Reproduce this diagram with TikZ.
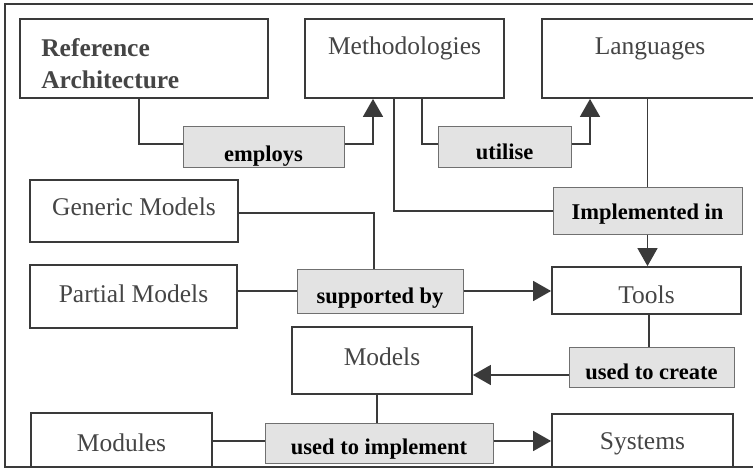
\documentclass[tikz,border=0pt]{standalone}
\usepackage{fontspec}
\setmainfont{Liberation Serif}
\usetikzlibrary{positioning,arrows.meta,calc}
\definecolor{ink}{HTML}{3A3A3A}
\definecolor{boxtext}{HTML}{454545}
\definecolor{tagfill}{HTML}{E3E3E3}
\definecolor{tagline}{HTML}{707070}
\tikzset{
  box/.style    = {draw=ink, fill=white, line width=1.8pt, inner sep=0pt,
                   text=boxtext, font=\fontsize{25.5}{32}\selectfont},
  boxtxt/.style = {inner sep=0pt, text=boxtext, align=left,
                   font=\fontsize{25.5}{32}\selectfont\bfseries},
  tag/.style    = {draw=tagline, fill=tagfill, line width=1pt, inner sep=0pt,
                   text=black, font=\fontsize{22.5}{26}\selectfont\bfseries},
  link/.style   = {draw=ink, line width=1.5pt},
  arr/.style    = {link, -{Triangle[length=18pt,width=20pt]}},
  frame/.style  = {draw=ink, line width=1.4pt},
}
\begin{document}
\begin{tikzpicture}[x=1pt,y=-1pt]
    \useasboundingbox (0,0) rectangle (753,468);
    \clip (0,0) rectangle (753,468);
    \node[box,minimum width=248pt,minimum height=79pt] (ref) at (144,58.5) {};
    \node[boxtxt,anchor=north west] (reftxt) at ($(ref.north west)+(22,20)$)
      {Reference\\Architecture};
    \node[box,minimum width=199pt,text height=36pt,text depth=43pt] (meth) at (404.5,58.5) {Methodologies};
    \node[box,minimum width=216pt,text height=36pt,text depth=43pt] (lang) at (650,58.5) {Languages};
    \node[box,minimum width=208pt,text height=35pt,text depth=27pt] (gen) at (134,211) {Generic Models};
    \node[box,minimum width=207pt,text height=37pt,text depth=26pt] (part) at (133.5,296.5) {Partial Models};
    \node[box,minimum width=181pt,text height=38pt,text depth=39pt] (mods) at (121.5,451.5) {Modules};
    \node[box,minimum width=180pt,text height=38pt,text depth=29pt] (models) at (382,360.5) {Models};
    \node[box,minimum width=189pt,text height=36pt,text depth=11pt] (tools) at (646.5,290.5) {Tools};
    \node[box,minimum width=181pt,text height=35pt,text depth=41pt] (sys) at (642.5,452) {Systems};
    \node[tag,minimum width=161pt,text height=35pt,text depth=6pt] (employs) at (263.5,147.5) {employs};
    \node[tag,minimum width=133pt,text height=33pt,text depth=8pt] (utilise) at (504.5,147.5) {utilise};
    \node[tag,minimum width=189pt,text height=32pt,text depth=14pt] (impl) at (647.5,211) {Implemented in};
    \node[tag,minimum width=166pt,text height=34pt,text depth=10pt] (supp) at (380,291) {supported by};
    \node[tag,minimum width=165pt,text height=32pt,text depth=8pt] (create) at (651.5,367) {used to create};
    \node[tag,minimum width=228pt,text height=31pt,text depth=9pt] (implement) at (379,443) {used to implement};
    \draw[link] ([xshift=-5pt]ref.south) |- ([yshift=3.5pt]employs.west);
    \draw[arr] ([yshift=3.5pt]employs.east) -| ([xshift=-31.5pt]meth.south);
    \draw[link] ([xshift=17.5pt]meth.south) |- ([yshift=3.5pt]utilise.west);
    \draw[arr] ([yshift=3.5pt]utilise.east) -| ([xshift=-60pt]lang.south);
    \draw[link] ([xshift=-10.5pt]meth.south) |- (impl.west);
    \draw[link] (impl.north |- lang.south) -- (impl.north);
    \draw[arr] (impl.south) -- (impl.south |- tools.north);
    \draw[link] ([yshift=-2pt]gen.east) -| ([xshift=-6pt]supp.north);
    \draw[link] (supp.west -| part.east) -- (supp.west);
    \draw[arr] (supp.east) -- (supp.east -| tools.west);
    \draw[link] ([xshift=2.5pt]tools.south) -- ([xshift=2.5pt]tools.south |- create.north);
    \draw[arr] ([yshift=-8pt]create.west) -- ([yshift=-8pt]create.west -| models.east);
    \draw[link] ([xshift=-5pt]models.south) -- ([xshift=-5pt]models.south |- implement.north);
    \draw[link] ([yshift=2pt]implement.west -| mods.east) -- ([yshift=2pt]implement.west);
    \draw[arr] ([yshift=2pt]implement.east) -- ([yshift=2pt]implement.east -| sys.west);
    \draw[frame] (770,4) -- (5,4) -- (5,467) -- (770,467);
  \end{tikzpicture}
\end{document}
